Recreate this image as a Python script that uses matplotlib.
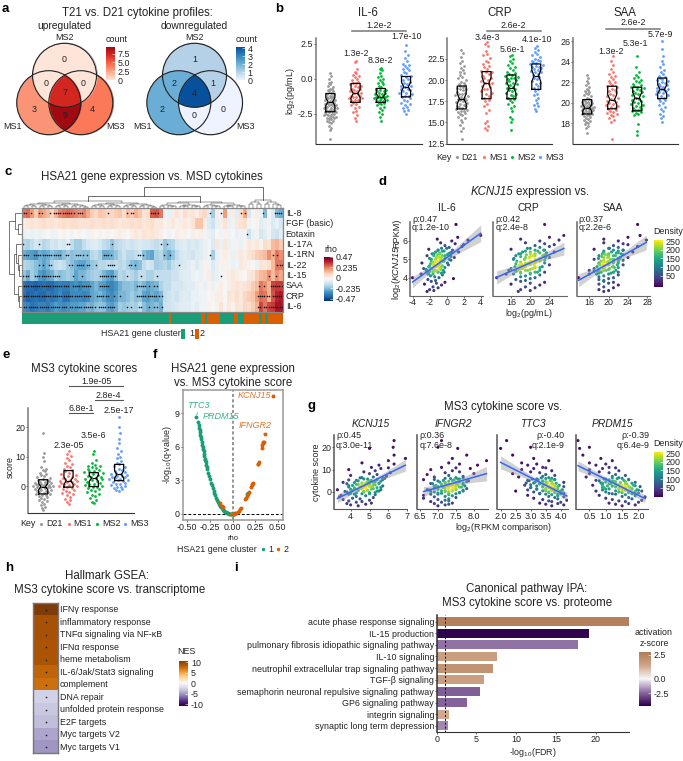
import numpy as np
import matplotlib
matplotlib.use('Agg')
import matplotlib.pyplot as plt
from matplotlib.patches import Circle, Rectangle
from matplotlib.colors import LinearSegmentedColormap, Normalize, TwoSlopeNorm
from matplotlib.colorbar import ColorbarBase

plt.rcParams.update({
    'font.family': ['Liberation Sans', 'DejaVu Sans'],
    'mathtext.fontset': 'custom',
    'mathtext.rm': 'Liberation Sans',
    'mathtext.it': 'Liberation Sans:italic',
    'mathtext.bf': 'Liberation Sans:bold',
    'mathtext.default': 'regular',
    'axes.facecolor': 'none',
    'axes.unicode_minus': False,
})

W, H = 683, 761
INK = '#222222'
GROUPS = ['D21', 'MS1', 'MS2', 'MS3']
GROUP_COLS = ['#999999', '#F8766D', '#00BA38', '#619CFF']
GREEN, ORANGE = '#1B9E77', '#D95F02'
TITLE = 8.3
SMALL = 6.4

# panel a, counts per venn region, keys are MS1/MS2/MS3 membership
up_counts = {'100': 3, '010': 0, '001': 4, '110': 0, '011': 0, '101': 9, '111': 7}
down_counts = {'100': 2, '010': 1, '001': 0, '110': 2, '011': 1, '101': 0, '111': 4}

# panel b, values per group
il6_d21 = [-4.3,-3.7,-3.5,-3.4,-3.2,-3.1,-3.0,-3.0,-2.9,-2.9,-2.8,-2.8,-2.7,-2.7,-2.7,-2.6,-2.6,-2.6,-2.5,-2.5,-2.5,-2.4,-2.4,-2.4,-2.3,-2.3,-2.3,-2.2,-2.2,-2.2,-2.1,-2.1,-2.1,-2.0,-2.0,-2.0,-1.9,-1.9,-1.9,-1.8,-1.8,-1.7,-1.7,-1.7,-1.6,-1.6,-1.5,-1.5,-1.4,-1.4,-1.3,-1.3,-1.2,-1.2,-1.1,-1.1,-1.0,-0.9,-0.9,-0.8,-0.7,-0.7,-0.6,-0.5,-0.4,-0.3,-0.2,0.0,0.2,0.4]
il6_ms1 = [-3.0,-2.8,-2.6,-2.4,-2.3,-2.1,-2.0,-1.9,-1.8,-1.7,-1.6,-1.6,-1.5,-1.5,-1.4,-1.4,-1.3,-1.3,-1.2,-1.2,-1.1,-1.0,-1.0,-0.9,-0.9,-0.8,-0.7,-0.7,-0.6,-0.5,-0.5,-0.4,-0.3,-0.3,-0.2,-0.1,0.0,0.1,0.2,0.3,0.4,0.5,0.7,1.2,1.3]
il6_ms2 = [-3.0,-2.7,-2.5,-2.4,-2.2,-2.1,-2.0,-1.9,-1.8,-1.7,-1.7,-1.6,-1.6,-1.5,-1.5,-1.4,-1.4,-1.3,-1.3,-1.3,-1.2,-1.2,-1.2,-1.1,-1.1,-1.0,-1.0,-0.9,-0.9,-0.8,-0.8,-0.7,-0.6,-0.5,-0.4,-0.3,-0.2,-0.1,0.0,0.1,0.2,0.4,0.6,0.7,0.8]
il6_ms3 = [-2.5,-2.3,-2.2,-2.1,-2.0,-1.9,-1.8,-1.7,-1.6,-1.5,-1.4,-1.3,-1.2,-1.2,-1.1,-1.0,-1.0,-0.9,-0.8,-0.7,-0.7,-0.6,-0.5,-0.5,-0.4,-0.3,-0.2,-0.1,0.0,0.1,0.2,0.3,0.4,0.5,0.6,0.7,0.8,0.9,1.0,1.1,1.3,1.5,1.7,2.0,2.4]
crp_d21 = [13.0,14.0,14.3,14.7,15.0,15.3,15.5,15.7,15.9,16.0,16.1,16.2,16.3,16.4,16.5,16.6,16.7,16.8,16.9,17.0,17.1,17.2,17.3,17.4,17.5,17.6,17.7,17.8,17.9,18.0,18.1,18.2,18.3,18.4,18.5,18.6,18.8,18.9,19.0,19.1,19.2,19.3,19.4,19.5,19.6,19.8,20.0,20.2,20.4,20.6,20.8,21.0,21.2,21.4,21.7,22.0,22.3,22.7,23.2,23.6]
crp_ms1 = [14.1,14.3,14.6,14.9,15.2,16.1,16.5,16.9,17.2,17.5,17.7,17.9,18.1,18.3,18.5,18.7,18.9,19.0,19.2,19.3,19.5,19.6,19.7,19.9,20.0,20.2,20.3,20.5,20.7,20.9,21.0,21.1,21.3,21.5,21.7,21.9,22.1,22.3,22.6,22.9,23.1,23.4,24.0,24.3,24.5]
crp_ms2 = [14.1,15.0,15.4,15.6,16.4,16.7,16.9,17.2,17.4,17.6,17.8,17.9,18.1,18.2,18.4,18.5,18.7,18.8,19.0,19.1,19.2,19.4,19.5,19.6,19.7,19.9,20.0,20.1,20.2,20.3,20.4,20.5,20.6,20.7,20.8,21.0,21.2,21.4,21.6,21.8,22.0,22.2,22.5,22.8,23.0]
crp_ms3 = [16.3,16.6,16.9,17.1,17.3,17.6,17.9,18.2,18.4,18.7,18.9,19.1,19.3,19.5,19.7,19.9,20.1,20.3,20.4,20.6,20.7,20.9,21.0,21.1,21.2,21.3,21.4,21.5,21.6,21.7,21.8,21.9,22.0,22.1,22.2,22.3,22.4,22.5,22.7,22.9,23.1,23.3,23.5,23.8,24.0]
saa_d21 = [17.0,17.5,17.7,17.9,18.0,18.1,18.2,18.3,18.4,18.5,18.6,18.7,18.8,18.8,18.9,18.9,19.0,19.0,19.1,19.1,19.2,19.2,19.3,19.3,19.4,19.4,19.5,19.5,19.5,19.6,19.6,19.7,19.7,19.8,19.8,19.9,19.9,20.0,20.0,20.1,20.1,20.2,20.2,20.3,20.4,20.5,20.6,20.7,20.8,20.9,21.0,21.1,21.2,21.3,21.5,21.7,21.9,22.1,22.4,22.7]
saa_ms1 = [16.5,18.1,18.3,18.5,18.7,18.8,18.9,19.0,19.1,19.2,19.3,19.4,19.5,19.6,19.7,19.8,19.9,20.0,20.1,20.2,20.3,20.4,20.5,20.6,20.7,20.8,21.0,21.1,21.2,21.3,21.5,21.6,21.7,21.9,22.0,22.1,22.3,22.5,22.6,22.8,23.0,23.3,23.7,24.1,24.5]
saa_ms2 = [16.8,17.2,17.9,18.8,18.9,19.0,19.1,19.2,19.3,19.3,19.4,19.5,19.6,19.7,19.8,19.9,20.0,20.1,20.2,20.3,20.4,20.5,20.6,20.7,20.8,20.9,21.0,21.1,21.2,21.3,21.4,21.5,21.5,21.6,21.7,21.8,22.0,22.1,22.2,22.4,22.5,22.7,23.0,23.5,24.5]
saa_ms3 = [18.1,18.5,18.7,18.9,19.2,19.4,19.6,19.8,20.0,20.2,20.3,20.4,20.5,20.6,20.7,20.8,20.9,21.0,21.1,21.1,21.2,21.3,21.3,21.4,21.5,21.6,21.7,21.8,21.9,22.0,22.1,22.2,22.3,22.4,22.5,22.6,22.8,23.0,23.2,23.5,23.8,24.1,24.5,25.2,26.0]
# q1, median, q3 for the boxes
il6_box = [(-2.36,-1.64,-1.05),(-1.69,-1.05,-0.33),(-1.69,-1.29,-0.69),(-1.29,-0.57,0.17)]
crp_box = [(16.6,17.8,19.3),(17.8,19.6,21.0),(17.8,19.1,20.6),(18.9,20.5,21.9)]
saa_box = [(18.9,19.5,20.3),(19.4,20.3,21.6),(19.2,20.5,21.5),(20.4,21.3,22.4)]

# panel c, rho x 100, 65 gene columns
cyto_names = ['IL-8','FGF (basic)','Eotaxin','IL-17A','IL-1RN','IL-22','IL-15','SAA','CRP','IL-6']
rho_il8 = [30,32,24,15,25, 22,18,12,20,28, 30,32,30,28,25, 28,22,14,12,16, 15,12,12,14,16, 10,18,14,20,16, 8,10,34,36,30, -2,-4,4,8,4, 10,6,8,4,10, 12,-6,-20,4,-2, 24,-4,4,-6,10, 22,-10,2,4,-4, -25,0,-8,-25,-28]
rho_fgf = [4,6,8,6,8, 10,8,8,6,8, 10,8,10,10,8, 8,8,10,8,8, 10,8,10,8,6, 8,8,10,8,10, 6,8,10,6,6, 2,4,6,2,4, 6,4,8,16,16, 4,-8,-12,-4,4, 8,-4,-2,6,8, 10,-2,0,2,-6, -4,-2,-8,-4,-10]
rho_eot = [-4,-2,-4,-2,-4, -2,0,-3,-2,0, 2,0,-2,0,2, 0,-2,2,0,2, 0,2,0,2,4, 2,0,4,6,4, 8,6,8,6,4, 0,-2,0,4,2, 2,0,4,2,4, -2,-4,-6,0,-2, 2,-2,0,-4,-2, -2,-12,-4,-2,-10, -6,-2,-10,-12,-6]
rho_il17 = [-16,-18,-14,-10,-12, -16,-14,-10,-12,-8, -10,-6,-14,-20,-20, -14,-10,-8,-6,-10, -14,-16,-22,-16,-14, -12,-10,-12,-10,-8, -10,-10,-12,-14,-12, -22,-18,-16,-10,-8, -6,-10,-8,-10,-6, -4,-2,-8,6,-4, 6,-4,-2,-2,-4, 2,6,4,6,2, 10,8,18,20,14]
rho_il1rn = [-28,-30,-32,-34,-28, -30,-28,-24,-26,-28, -24,-20,-24,-22,-22, -24,-24,-16,-14,-18, -28,-28,-26,-22,-16, -12,-16,-16,-14,-12, -24,-28,-30,-18,-16, -24,-28,-22,-14,-10, -8,-10,-12,-8,-6, -4,-2,-20,-4,2, 4,2,-4,4,6, 4,8,10,14,16, 18,26,20,30,26]
rho_il22 = [-16,-18,-20,-24,-26, -30,-26,-18,-14,-12, -14,-20,-24,-28,-30, -30,-26,-22,-20,-16, -16,-14,-16,-14,-16, -14,-18,-24,-26,-24, -14,-10,-12,-20,-18, -16,-20,-14,-12,-10, -8,-6,-4,-8,-4, 2,-2,-8,-4,2, 2,-2,-4,-2,6, 4,2,0,-4,8, 6,10,18,30,30]
rho_il15 = [-22,-28,-20,-24,-32, -34,-30,-28,-20,-24, -22,-20,-22,-30,-26, -26,-22,-20,-18,-20, -26,-30,-32,-24,-16, -18,-14,-16,-20,-14, -14,-18,-18,-14,-14, -14,-14,-12,-12,-8, -6,-6,-4,-2,-4, 2,4,-6,-4,-2, 2,4,6,4,2, 0,6,8,14,18, 20,26,18,26,22]
rho_saa = [-42,-44,-44,-46,-44, -42,-44,-44,-40,-38, -40,-40,-36,-34,-38, -34,-34,-30,-26,-30, -32,-36,-38,-34,-28, -24,-24,-22,-26,-22, -26,-30,-28,-26,-18, -14,-14,-10,-10,-10, -8,-6,-6,-4,-2, -4,2,-4,2,4, 0,4,6,8,6, 8,10,14,18,30, 26,20,38,40,40]
rho_crp = [-42,-46,-44,-42,-44, -44,-40,-42,-40,-36, -42,-42,-36,-36,-36, -38,-36,-30,-28,-26, -30,-34,-36,-32,-26, -26,-24,-20,-24,-22, -30,-32,-28,-30,-26, -14,-12,-10,-12,-8, -6,-8,-4,-4,-2, -2,0,2,4,4, 0,8,6,10,6, 12,14,16,24,32, 30,20,36,44,46]
rho_il6 = [-36,-38,-42,-40,-38, -38,-40,-36,-32,-34, -36,-34,-32,-32,-30, -30,-26,-28,-24,-22, -24,-30,-32,-28,-20, -22,-20,-18,-20,-14, -24,-28,-26,-24,-28, -12,-12,-10,-8,-6, -6,-6,-4,-6,-2, -2,2,0,2,8, 2,6,2,8,6, 12,10,14,20,38, 30,38,40,47,47]
rho_rows = [rho_il8, rho_fgf, rho_eot, rho_il17, rho_il1rn, rho_il22, rho_il15, rho_saa, rho_crp, rho_il6]
# significant cells as (first, last) column runs
sig_il8 = [(0,1.5),(2.3,2.3),(4.4,5.2),(7,7),(8,13),(14,15.5),(21.5,21.5),(26.2,26.2),(27.2,28),(32.2,34.2),(47,47),(49.6,49.6),(54.6,54.6),(55.7,55.7),(60,60.4),(63,65)]
sig_eot = [(56,56)]
sig_il17 = [(0.2,0.2),(4.4,4.4),(11.2,12.2),(22.5,22.5),(34.6,34.6),(36.1,36.1)]
sig_il1rn = [(0,2),(3,7.5),(8,10),(11,12),(13.5,15.5),(16.3,16.3),(20.5,22.5),(29,30.5),(35.4,35.4),(37,37),(47,47),(62.5,62.5),(63.5,63.5)]
sig_il22 = [(4.4,4.4),(5.2,5.2),(6.7,7.5),(11.7,11.7),(12.5,12.5),(13.7,15.4),(16.3,16.9),(18.6,18.6),(21.4,22.5),(23.1,23.1),(26.7,26.7),(27.3,27.3),(28.2,28.2),(39.2,39.2),(63.7,65)]
sig_il15 = [(0.4,1.7),(3.3,8.8),(9.4,9.4),(12.9,12.9),(15,15),(19.4,23.6),(26.2,26.2),(29.6,29.6),(33.7,33.7),(49.6,49.6),(61.7,61.7),(63.4,63.4)]
sig_saa = [(0,11.7),(12.7,17.5),(19.4,21.7),(28.6,31),(31.7,31.7),(32.9,32.9),(33.6,33.6),(59.2,59.2),(60.4,60.4),(62,65)]
sig_crp = [(0,17.5),(18.7,21.7),(22.9,22.9),(24.6,24.6),(28.6,34.2),(35,35),(58.8,61.7),(62.5,65)]
sig_il6 = [(0.6,11.2),(12.1,18.3),(19.2,23.3),(26.2,26.2),(27.2,27.7),(29.2,30),(31.7,31.7),(32.9,32.9),(33.7,33.7),(35,35),(58.9,59.6),(60.4,65)]
sig_rows = [sig_il8, [], sig_eot, sig_il17, sig_il1rn, sig_il22, sig_il15, sig_saa, sig_crp, sig_il6]
cluster2_runs = [(36.8,37.3),(44.6,45.6),(46.1,49.4),(52.9,53.9),(55.4,59.2),(59.8,60.6),(61.3,65)]

# panel d, KCNJ15 expression and the three cytokines per sample
kcnj15 = [3.25,3.3,3.35,3.45,3.5,3.6,3.65,3.7,3.75,3.8,
          3.85,3.9,3.95,4.0,4.0,4.05,4.1,4.15,4.2,4.2,
          4.25,4.3,4.3,4.35,4.4,4.4,4.45,4.5,4.5,4.55,
          4.6,4.6,4.65,4.7,4.7,4.75,4.8,4.8,4.85,4.9,
          4.9,4.95,5.0,5.0,5.05,5.1,5.1,5.15,5.2,5.2,
          5.25,5.3,5.3,5.35,5.4,5.45,5.5,5.5,5.55,5.6,
          5.65,5.7,5.75,5.8,5.85,5.9,6.0,6.05,6.1,6.2,6.3,6.9,
          4.2,4.25,4.3,4.3,4.35,4.4,4.4,4.45,4.5,4.5,4.55,4.6,4.6,4.65,4.7,4.7,4.75,4.8,4.8,4.85,
          4.9,4.9,4.95,5.0,5.0,5.05,5.1,5.1,5.15,5.2,5.2,5.25,5.3,5.3,5.35,5.4,5.4,5.45,5.5,5.6]
d_il6 = [-2.3,-1.5,-2.0,-1.0,-1.6,-0.6,-2.6,-1.2,-0.2,-1.8,
         -1.3,-2.2,0.8,-4.0,-0.9,-1.4,-1.9,-0.5,-3.0,-1.6,
         -2.1,-1.0,-0.3,-1.5,-2.4,-1.2,-0.7,-1.7,-2.7,-0.9,
         -1.4,-0.6,-2.0,-1.1,0.2,-1.6,-0.8,-2.9,-1.3,-0.4,
         -1.0,0.5,-1.8,-0.7,-0.2,-1.2,0.9,-0.9,-2.3,-0.5,
         0.1,-1.5,-0.8,0.4,1.4,-0.3,-1.0,0.7,-2.1,-0.6,
         0.3,1.8,-0.2,2.0,1.0,-0.7,0.6,2.5,-1.1,1.3,4.0,1.1,
         -2.2,-0.6,-1.6,-1.0,-2.0,-0.4,-1.4,-2.4,-0.8,-1.8,-0.2,-1.2,-2.1,-0.5,-1.5,-0.9,-1.9,0.1,-1.1,-1.6,
         -0.3,-1.8,-0.7,-1.3,0.3,-2.0,-0.6,-1.0,0.5,-1.5,-0.2,-1.1,-1.7,0.2,-0.8,-1.3,0.6,-0.5,-1.0,0.0]
d_crp = [17.5,20,18,21,19,22,16,20,23,18,
         19,17,20,13,21,18,19,22,15,20,
         18,21,23,17,15.5,19,20,18,16,22,
         19,21,18,20,24,17,21,19,18,22,
         20,23,16.5,21,22,19,24,20,17,21,
         23,18,20,22,25,19,21,23,16,20,
         22,24,21,25,23,19,22,26,18,24,27,23,
         16.5,20,18,21.5,17,19.5,22,17.5,20.5,18.5,21,16.8,22.5,19,17.8,20.8,18.2,23,19.6,21.2,
         17.2,20.2,22.2,18.8,21.8,16.6,19.8,23.2,18,20.6,22.6,19.2,21,17.6,23.4,20,18.4,21.6,22.8,19.4]
d_saa = [19,20,18,21,19,22,18,20,21,19,
         19,18,20,13.8,21,18,19,22,16,20,
         18,21,22,17,16,19,20,19,17,22,
         19,21,19,20,23,18,21,18,19,22,
         20,23,17,21,22,19,24,20,18,21,
         23,19,20,22,25,19,21,23,17,20,
         22,26,21,24,23,19,22,27.8,19,24,26.5,26,
         17.5,20.5,18.5,21,17.8,19.5,21.5,18,20.2,19,21.2,17.6,20.8,19.2,18.2,21.8,18.8,20,22,19.6,
         18.4,21,19,22.2,20.4,17.9,19.8,22.4,18.6,21.4,20,19.4,22.6,18.7,21.6,20.6,19,22,23,20.2]

# panel e
score_d21 = [-8,-7.5,-7,-6.5,-6,-5.5,-5,-4.7,-4.3,-4,-3.7,-3.4,-3.1,-2.9,-2.7,-2.5,-2.3,-2.1,-1.9,-1.7,-1.5,-1.3,-1.1,-0.9,-0.7,-0.6,-0.4,-0.3,-0.1,0,0.1,0.2,0.3,0.4,0.5,0.7,0.8,0.9,1.1,1.2,1.4,1.6,1.8,2.0,2.2,2.5,2.8,3.1,3.4,3.8,4.2,4.6,5.0,5.5,6.0,6.6,8.5,10,11.3,18]
score_ms1 = [-6,-5.3,-4.8,-4.2,-3.5,-3.0,-2.6,-2.2,-1.9,-1.5,-1.1,-0.8,-0.5,-0.2,0,0.2,0.4,0.7,0.9,1.1,1.3,1.5,1.7,1.9,2.1,2.3,2.6,2.9,3.2,3.5,3.8,4.1,4.5,5.0,5.4,5.9,6.4,7,7.5,8,8.8,9.5,10.3,11,11.8]
score_ms2 = [-5.7,-5.2,-4.5,-3.9,-3.3,-2.9,-2.5,-2.1,-1.7,-1.3,-1,-0.7,-0.4,-0.1,0.1,0.4,0.7,0.9,1.2,1.5,1.8,2,2.3,2.6,2.8,3.1,3.3,3.6,3.9,4.1,4.4,4.7,5,5.3,5.6,5.9,6.2,6.5,6.8,7,7.3,8,9,11,11.8]
score_ms3 = [-1.7,-1.3,-1,-0.7,-0.4,-0.2,0,0.3,0.6,0.9,1.1,1.4,1.7,2,2.2,2.4,2.6,2.8,3,3.2,3.4,3.6,3.8,4,4.2,4.5,4.8,5.2,5.6,6,6.5,7,7.5,8,8.7,9.5,10,11,12,13,14.5,16,18,20,23.5]
score_box = [(-2.6,-0.1,2.2),(-0.3,1.9,5.3),(-0.1,2.7,4.6),(1.9,4.0,7.4)]

# panel f
c1_rho = [-0.40,-0.38,-0.375,-0.37,-0.365,-0.36,-0.355,-0.35,-0.345,-0.34,-0.335,-0.33,-0.325,-0.32,-0.315,-0.31,-0.305,-0.30,-0.295,-0.29,-0.285,-0.28,-0.27,-0.26,-0.25,-0.24,-0.23,-0.22,-0.21,-0.20,-0.19,-0.18,-0.17,-0.16,-0.15,-0.14,-0.13,-0.12,-0.11,-0.10,-0.09,-0.08,-0.07,-0.06,-0.05,-0.04,-0.03,-0.02,-0.01,0.0,0.01,0.02,0.16,0.17]
c1_q = [8.65,8.2,7.9,7.7,7.5,7.3,7.05,6.85,6.65,6.45,6.2,6.0,5.8,5.6,5.35,5.15,4.95,4.8,4.6,4.4,4.2,4.05,3.7,3.4,3.1,2.8,2.55,2.3,2.05,1.85,1.65,1.45,1.25,1.05,0.9,0.75,0.62,0.5,0.4,0.32,0.25,0.18,0.13,0.09,0.06,0.04,0.02,0.01,0.005,0.0,0.005,0.01,1.75,1.85]
c2_rho = [-0.14,-0.12,-0.11,-0.02,0.02,0.03,0.04,0.06,0.07,0.08,0.09,0.14,0.15,0.16,0.17,0.18,0.20,0.21,0.22,0.23,0.28,0.285,0.29,0.325,0.33,0.335,0.34,0.345,0.355,0.445]
c2_q = [0.95,0.75,0.6,0.02,0.03,0.05,0.1,0.2,0.3,0.4,0.5,1.3,1.45,1.6,1.8,1.95,2.4,2.55,2.7,2.8,4.45,4.5,4.6,5.85,6.2,6.3,6.4,6.45,7.15,10.5]

# panel g, score per sample and four genes
score_all = [-6.2,-5.8,-5.5,-5.2,-5,-4.6,-4.3,-4,-3.7,-3.4,
             -3.1,-2.8,-2.5,-2.2,-2,-1.7,-1.5,-1.2,-1,-0.8,
             -0.6,-0.3,0,0.2,0.4,0.6,0.8,1,1.2,1.4,
             1.6,1.8,2,2.2,2.4,2.6,2.8,3,3.2,3.4,
             3.6,3.8,4,4.3,4.6,4.9,5.2,5.5,5.8,6.1,
             6.4,6.7,7,7.4,7.8,8.2,8.6,9,9.5,10,
             10.5,10.8,11,12,12.5,13,14,15,16.5,19.5,20,23,
             -1,-0.8,-0.5,-0.3,0,0.2,0.4,0.5,0.7,0.9,1,1.2,1.4,1.5,1.7,1.9,2,2.2,2.4,2.5,
             2.7,2.9,3,3.2,3.4,3.5,3.7,3.9,4,4.2,4.4,4.6,4.8,5,5.2,5.4,5.6,5.8,6,6.3]
g_kcnj15 = [4.4,4.0,4.8,3.8,5.1,4.3,4.6,3.9,5.0,3.6,
            4.5,4.1,5.2,3.4,4.3,4.8,3.5,5.3,4.2,4.6,
            4.0,5.0,4.7,3.7,5.4,4.4,4.9,3.3,5.1,4.6,
            4.8,4.2,5.6,4.5,5.0,4.7,3.9,5.2,4.9,4.4,
            4.6,5.5,4.8,3.6,5.3,5.0,4.3,5.7,4.9,5.8,
            4.6,5.2,5.9,4.0,5.4,5.0,6.1,4.7,5.3,3.9,
            5.6,6.0,5.1,5.5,6.3,4.6,6.0,6.9,6.3,5.0,6.25,6.3,
            3.9,5.0,4.3,5.3,3.8,4.7,5.5,4.1,4.9,4.4,5.6,4.0,4.6,5.2,4.2,5.4,4.8,3.9,5.1,4.5,
            5.7,4.1,4.7,5.3,4.3,5.0,3.8,5.5,4.6,4.2,5.2,4.9,5.6,4.4,5.1,3.9,5.4,4.7,5.7,4.5]
g_ifngr2 = [7.0,7.2,7.3,6.9,7.4,7.1,6.8,7.3,7.2,7.0,
            7.3,6.6,7.5,6.9,7.2,7.4,6.6,7.3,7.0,7.5,
            7.1,7.6,7.3,6.8,7.4,7.2,7.7,6.7,7.3,7.5,
            7.2,7.4,7.0,7.6,7.3,6.9,7.5,7.4,7.1,7.7,
            7.3,6.8,7.5,7.2,7.8,7.0,7.4,6.6,7.6,7.2,
            7.5,6.9,7.7,7.3,6.7,8.0,7.2,7.6,7.4,6.8,
            7.9,7.5,7.1,8.1,7.6,7.3,8.35,7.4,7.8,7.55,7.0,7.1,
            6.8,7.3,7.0,7.6,6.9,7.2,7.7,7.1,7.4,6.75,7.5,7.0,7.3,7.8,6.9,7.45,7.15,7.65,7.0,7.35,
            7.75,6.95,7.25,7.55,7.1,7.4,6.85,7.7,7.2,7.5,7.05,7.6,7.3,7.85,7.15,7.45,6.9,7.55,7.35,7.7]
g_ttc3 = [3.7,4.1,3.5,3.9,3.3,4.0,3.7,3.6,4.2,3.4,
          3.9,3.1,3.8,4.1,3.6,3.9,2.9,3.7,3.5,4.0,
          3.3,3.8,3.6,4.0,2.5,3.5,3.9,3.7,3.2,3.8,
          3.5,3.7,3.0,3.6,3.9,3.4,3.8,2.8,3.6,3.5,
          3.3,3.7,3.1,4.1,3.5,3.4,2.9,3.8,3.2,3.7,
          3.6,2.6,3.4,3.8,3.5,2.4,3.3,3.0,3.7,2.7,
          3.1,3.5,3.4,2.9,3.2,2.7,3.6,3.1,2.4,2.0,3.0,2.2,
          3.9,3.3,4.1,3.6,3.1,3.8,4.0,3.4,3.7,2.9,4.05,3.5,3.2,3.9,3.6,3.0,3.8,3.4,4.1,3.7,
          3.2,3.6,3.95,3.0,3.5,3.75,3.3,3.85,2.85,3.55,3.15,3.7,3.4,2.95,3.65,3.25,3.8,3.05,3.5,3.35]
g_prdm15 = [1.5,1.9,1.3,1.7,1.1,2.0,1.6,1.4,2.1,1.2,
            1.8,1.0,1.7,2.2,1.5,1.9,0.8,1.6,1.3,1.8,
            1.1,1.7,1.4,1.9,0.7,1.5,2.0,1.6,1.0,1.8,
            1.4,1.6,0.9,1.5,1.7,1.2,1.9,0.6,1.4,1.3,
            1.1,1.6,0.9,1.9,1.3,1.2,0.7,1.7,1.0,1.5,
            1.4,0.4,1.2,1.6,1.3,0.5,1.1,0.8,1.4,0.5,
            0.9,1.3,1.1,0.7,1.0,0.5,1.2,0.85,0.3,0.2,0.5,0.15,
            1.9,1.2,2.0,1.5,1.0,1.7,2.1,1.3,1.6,0.9,1.95,1.4,1.1,1.8,1.5,0.95,1.75,1.3,2.05,1.6,
            1.05,1.5,1.85,0.9,1.4,1.65,1.15,1.8,0.85,1.45,1.0,1.6,1.25,0.8,1.55,1.1,1.7,0.95,1.35,1.2]

# panel h
hallmark_names = ['IFNγ response','inflammatory response','TNFα signaling via NF-κB','IFNα response','heme metabolism','IL-6/Jak/Stat3 signaling','complement','DNA repair','unfolded protein response','E2F targets','Myc targets V2','Myc targets V1']
hallmark_nes = [9.8,8.0,8.0,7.8,7.8,7.0,6.5,-2.2,-2.6,-3.0,-4.0,-4.5]

# panel i
ipa_names = ['acute phase response signaling','IL-15 production','pulmonary fibrosis idiopathic signaling pathway','IL-10 signaling','neutrophil extracellular trap signaling pathway','TGF-β signaling','semaphorin neuronal repulsive signaling pathway','GP6 signaling pathway','integrin signaling','synaptic long term depression']
ipa_fdr = [24.2,19.1,17.8,7.6,7.1,5.9,5.4,3.8,1.5,1.4]
ipa_z = [2.6,-4.6,-2.2,1.6,2.0,1.6,-2.6,-2.5,1.3,-1.9]

fig = plt.figure(figsize=(W/100, H/100), dpi=100)

def ax_px(l, t, r, b):
    return fig.add_axes([l/W, 1-b/H, (r-l)/W, (b-t)/H])

# full figure layer in reference pixels, for the text and the legends
bg = fig.add_axes([0, 0, 1, 1], zorder=10)
bg.set_xlim(0, W)
bg.set_ylim(H, 0)
bg.axis('off')

def txt(x, y, s, size=SMALL, ha='center', va='center', **kw):
    kw.setdefault('color', INK)
    bg.text(x, y, s, fontsize=size, ha=ha, va=va, **kw)

def letter(x, y, s):
    txt(x, y, s, size=9.5, fontweight='bold', color='black')

def style_spines(ax, left='#777777', bottom='#333333'):
    ax.spines[['top', 'right']].set_visible(False)
    ax.spines['left'].set_color(left)
    ax.spines['left'].set_linewidth(1.1)
    ax.spines['bottom'].set_color(bottom)
    ax.spines['bottom'].set_linewidth(0.8)
    ax.tick_params(labelsize=SMALL, length=1.3, width=0.5, pad=0.6, colors=INK)

def cbar(l, t, r, b, cmap, norm, ticks, labels):
    cax = ax_px(l, t, r, b)
    cb = ColorbarBase(cax, cmap=cmap, norm=norm, ticks=ticks)
    cb.set_ticklabels(labels)
    cb.outline.set_visible(False)
    cax.tick_params(labelsize=SMALL, length=2, width=0.4, color='white', direction='in', pad=2, labelcolor=INK)

def van_der_corput(i):
    v, f = 0.0, 0.5
    while i > 0:
        v += f*(i % 2)
        i //= 2
        f /= 2
    return v

def strip(ax, groups, boxes, wid, px_x, px_y):
    for k, vals in enumerate(groups):
        v = np.array(vals, float)
        d = np.exp(-0.5*((v[:, None]-v[None, :])*px_y/5.0)**2).sum(axis=1)
        off = np.array([van_der_corput(i+1)-0.5 for i in range(len(v))])*2*wid*d/d.max()
        ax.scatter(k+1+off/px_x, v, s=4.0, color=GROUP_COLS[k], lw=0, zorder=2)
    stats = []
    for q1, med, q3 in boxes:
        ci = 0.22*(q3-q1)
        stats.append(dict(med=med, q1=q1, q3=q3, cilo=med-ci, cihi=med+ci, whislo=q1, whishi=q3, fliers=[]))
    ax.bxp(stats, positions=[1, 2, 3, 4], widths=0.36, shownotches=True, showfliers=False, showcaps=False,
           manage_ticks=False, boxprops=dict(color='black', lw=0.9), medianprops=dict(color='black', lw=0.9),
           whiskerprops=dict(lw=0), zorder=3)
    ax.set_xticks([])

def key_row(y, x_key, xs_dot, xs_lab, labels, cols, s=5):
    if x_key is not None:
        txt(x_key, y, 'Key', ha='left')
    for xd, xl, lab, c in zip(xs_dot, xs_lab, labels, cols):
        bg.scatter([xd], [y], s=s, color=c, lw=0)
        txt(xl, y, lab, ha='left')

def density_scatter(ax, x, y, lim_x, lim_y, ax_w, ax_h):
    x = np.array(x, float)
    y = np.array(y, float)
    px = (x-lim_x[0])/(lim_x[1]-lim_x[0])*ax_w
    py = (y-lim_y[0])/(lim_y[1]-lim_y[0])*ax_h
    r2 = (px[:, None]-px[None, :])**2+(py[:, None]-py[None, :])**2
    dens = np.exp(-0.5*r2/3.5**2).sum(axis=1)
    dens = dens/dens.max()*250
    order = np.argsort(dens)
    ax.scatter(x[order], y[order], c=dens[order], cmap='viridis', vmin=15, vmax=250, s=5, lw=0, zorder=2)
    b, a = np.polyfit(x, y, 1)
    xs = np.linspace(x.min(), x.max(), 50)
    fit = a+b*xs
    res = y-(a+b*x)
    se = np.sqrt((res**2).sum()/(len(x)-2))*np.sqrt(1/len(x)+(xs-x.mean())**2/((x-x.mean())**2).sum())
    ax.fill_between(xs, fit-2*se, fit+2*se, color='#999999', alpha=0.45, lw=0, zorder=3)
    ax.plot(xs, fit, color='#3366FF', lw=1.1, zorder=4)

# a
def venn(cx, cy, r, counts, cmap, vmax):
    xx, yy = np.meshgrid(np.linspace(cx[0]-r-1, cx[2]+r+1, 500), np.linspace(cy[1]-r-1, cy[0]+r+1, 500))
    inside = [(xx-cx[i])**2+(yy-cy[i])**2 <= r**2 for i in range(3)]
    rgba = np.zeros(xx.shape+(4,))
    norm = Normalize(0, vmax)
    for key, val in counts.items():
        m = np.ones(xx.shape, bool)
        for i in range(3):
            m &= inside[i] if key[i] == '1' else ~inside[i]
        rgba[m] = cmap(norm(val))
    bg.imshow(rgba, extent=(xx.min(), xx.max(), yy.max(), yy.min()), aspect='auto', interpolation='bilinear', zorder=1)
    bg.set_xlim(0, W)
    bg.set_ylim(H, 0)
    for i in range(3):
        bg.add_patch(Circle((cx[i], cy[i]), r, fill=False, ec=INK, lw=0.8, zorder=2))

reds = LinearSegmentedColormap.from_list('reds', ['#FEE5D9', '#FCA98C', '#FB6A4A', '#DC2A22', '#A00B12'])
blues = LinearSegmentedColormap.from_list('blues', ['#EFF3FF', '#B5D2E8', '#6BAED6', '#3182BD', '#08519C'])
venn((48.7, 64.5, 80.8), (102.7, 75.3, 102.7), 32, up_counts, reds, 9)
venn((178.8, 194.5, 210.5), (102.7, 75.3, 102.7), 32, down_counts, blues, 4)
label_pos_up = {'010': (64.5, 59), '110': (46, 83), '011': (83, 83), '111': (65, 92.5), '100': (33.7, 109), '001': (92, 109), '101': (65, 116)}
label_pos_down = {'010': (194.5, 59), '110': (174, 83), '011': (213, 83), '111': (194.5, 93), '100': (162.3, 109), '001': (223, 109), '101': (194.5, 116)}
for key, (x, y) in label_pos_up.items():
    txt(x, y, str(up_counts[key]), color=INK, zorder=3)
for key, (x, y) in label_pos_down.items():
    txt(x, y, str(down_counts[key]), color=INK, zorder=3)
letter(5, 9, 'a')
txt(137, 13, 'T21 vs. D21 cytokine profiles:', size=TITLE)
txt(64.3, 26, 'upregulated', size=7.4)
txt(194.3, 26, 'downregulated', size=7.4)
for x0 in (0, 130):
    txt(x0+64, 37.7, 'MS2')
    txt(x0+12.5, 126.7, 'MS1')
    txt(x0+115.7, 126.7, 'MS3')
txt(116.7, 40, 'count')
txt(236, 40, 'count', ha='left')
cbar(106, 47.3, 115, 80, reds, Normalize(0, 9.3), [0, 2.5, 5, 7.5], ['0', '2.5', '5.0', '7.5'])
cbar(236, 47.3, 245, 80, blues, Normalize(0, 4.1), [0, 1, 2, 3, 4], ['0', '1', '2', '3', '4'])

# b
b_groups = [[il6_d21, il6_ms1, il6_ms2, il6_ms3], [crp_d21, crp_ms1, crp_ms2, crp_ms3], [saa_d21, saa_ms1, saa_ms2, saa_ms3]]
b_boxes = [il6_box, crp_box, saa_box]
b_rects = [(315.7, 38, 421.7, 143.7), (447.3, 38, 551.7, 143.7), (572.7, 38, 677.7, 143.7)]
b_ylims = [(-4.65, 2.93), (12.5, 24.96), (16.0, 26.3)]
b_ticks = [([-2.5, 0, 2.5], ['-2.5', '0.0', '2.5']), ([12.5, 15, 17.5, 20, 22.5], ['12.5', '15.0', '17.5', '20.0', '22.5']), ([18, 20, 22, 24, 26], None)]
for i in range(3):
    r = b_rects[i]
    ax = ax_px(*r)
    ax.set_xlim(0.42, 4.62)
    ax.set_ylim(*b_ylims[i])
    style_spines(ax)
    strip(ax, b_groups[i], b_boxes[i], 7.0, 25, (r[3]-r[1])/(b_ylims[i][1]-b_ylims[i][0]))
    ax.set_yticks(b_ticks[i][0])
    if b_ticks[i][1]:
        ax.set_yticklabels(b_ticks[i][1])
letter(279, 9, 'b')
for x, y, s in [(368, 12.7, 'IL-6'), (499.3, 12.7, 'CRP'), (625, 12.7, 'SAA')]:
    txt(x, y, s, size=TITLE)
for x, y, s in [(356, 53.3, '1.3e-2'), (380.7, 60.3, '8.3e-2'), (406.7, 36.7, '1.7e-10'),
                (487.3, 37.7, '3.4e-3'), (512.3, 50, '5.6e-1'), (536.7, 40, '4.1e-10'),
                (611, 51.7, '1.3e-2'), (635, 44, '5.3e-1'), (660.7, 34.3, '5.7e-9'),
                (379.3, 25, '1.2e-2'), (513.3, 25, '2.6e-2'), (633, 22.7, '2.6e-2')]:
    txt(x, y, s)
for x0, x1, y in [(351.7, 406, 30.7), (486.7, 540.7, 31), (606, 660, 28.7)]:
    bg.plot([x0, x1], [y, y], color='#777777', lw=1.1)
txt(290.7, 90.7, 'log$_2$(pg/mL)', rotation=90)
key_row(157.3, 436.7, [456.7, 484.3, 512.3, 540.3], [461.3, 489, 517, 545], GROUPS, GROUP_COLS)

# c
heat_l, heat_r, heat_t, heat_b = 21.7, 282.7, 208.3, 311.7
col_w = (heat_r-heat_l)/65
ax = ax_px(heat_l, heat_t, heat_r, heat_b)
ax.imshow(np.array(rho_rows)/100.0, cmap='RdBu_r', vmin=-0.57, vmax=0.57, aspect='auto', interpolation='nearest', extent=(0, 65, 10, 0))
for r, runs in enumerate(sig_rows):
    for a, b in runs:
        xs = np.arange(a, b+0.01, 0.55)
        ax.plot(xs, [r+0.5]*len(xs), ls='none', marker='o', ms=1.15, mec='none', color='#111111', clip_on=True)
ax.set_xlim(0, 65)
ax.set_ylim(10, 0)
ax.set_xticks([])
ax.set_yticks([])
for s in ax.spines.values():
    s.set_color('#888888')
    s.set_linewidth(0.9)
for r, name in enumerate(cyto_names):
    txt(285.7, heat_t+(heat_b-heat_t)*(r+0.5)/10, name, ha='left')
strip_ax = ax_px(heat_l, 313.3, heat_r, 323.5)
strip_ax.axvspan(0, 65, color=GREEN, lw=0)
for a, b in cluster2_runs:
    strip_ax.axvspan(a, b, color=ORANGE, lw=0)
strip_ax.set_xlim(0, 65)
strip_ax.axis('off')
letter(8, 172, 'c')
txt(152, 177, 'HSA21 gene expression vs. MSD cytokines', size=TITLE)

# dendrogram over the gene columns
def col_x(c):
    return heat_l+c*col_w

def col_tree(lo, hi, h):
    if hi-lo <= 1:
        return lo+0.5, heat_t-0.5
    mid = (lo+hi)//2
    hc = max(h*0.72, 1.0) if hi-lo > 2 else 0.0
    a = col_tree(lo, mid, hc)
    b = col_tree(mid, hi, hc)
    y = heat_t-0.5-h
    bg.plot([col_x(a[0]), col_x(a[0]), col_x(b[0]), col_x(b[0])], [a[1], y, y, b[1]], color='#333333', lw=0.35)
    return (a[0]+b[0])/2, y

left_a = col_tree(0, 34, 6.5)
left_b = col_tree(34, 56, 6.0)
y_left = heat_t-12.3
bg.plot([col_x(left_a[0]), col_x(left_a[0]), col_x(left_b[0]), col_x(left_b[0])], [left_a[1], y_left, y_left, left_b[1]], color='#333333', lw=0.5)
right_a = col_tree(56, 65, 8.0)
x_left = (left_a[0]+left_b[0])/2
y_root = 186.7
bg.plot([col_x(x_left), col_x(x_left), col_x(right_a[0]), col_x(right_a[0])], [y_left, y_root, y_root, right_a[1]], color='#333333', lw=0.5)

# dendrogram beside the cytokine rows, leaves are row numbers
row_tree = (12.5, (6.5, 0, (3.5, 1, 2)), (7.5, (5, 3, (3.5, 4, (2, 5, 6))), (3.5, 7, (1.8, 8, 9))))

def row_draw(node):
    if not isinstance(node, tuple):
        return heat_t+(heat_b-heat_t)*(node+0.5)/10, 0
    h, a, b = node
    ya, ha = row_draw(a)
    yb, hb = row_draw(b)
    x = heat_l-0.5-h
    bg.plot([heat_l-0.5-ha, x, x, heat_l-0.5-hb], [ya, ya, yb, yb], color='#444444', lw=0.5)
    return (ya+yb)/2, h

row_draw(row_tree)
txt(324, 250, 'rho', ha='left')
cbar(324, 256.7, 333, 301, plt.get_cmap('RdBu_r'), Normalize(-0.52, 0.47), [-0.47, -0.235, 0, 0.235, 0.47], ['-0.47', '-0.235', '0', '0.235', '0.47'])
txt(100.7, 334, 'HSA21 gene cluster', ha='left')
bg.add_patch(Rectangle((181, 329.3), 4, 9.4, color=GREEN, lw=0))
txt(189.5, 334, '1', ha='left')
bg.add_patch(Rectangle((195.3, 329.3), 3.6, 9.4, color=ORANGE, lw=0))
txt(200, 334, '2', ha='left')

# d
d_xs = [d_il6, d_crp, d_saa]
d_rects = [(410, 221.7, 483, 295.7), (493.3, 221.7, 566.7, 295.7), (576.7, 221.7, 650, 295.7)]
d_xlims = [(-4.3, 4.27), (12.3, 27.6), (13.4, 28.56)]
d_xticks = [[-4, -2, 0, 2, 4], [16, 20, 24], [16, 20, 24, 28]]
d_notes = [('ρ:0.47', 'q:1.2e-10', 412), ('ρ:0.42', 'q:2.4e-8', 495.3), ('ρ:0.37', 'q:2.2e-6', 578.7)]
d_titles = [(446.7, 'IL-6'), (528, 'CRP'), (613, 'SAA')]
d_ylim = (3.02, 7.05)
for i in range(3):
    r = d_rects[i]
    ax = ax_px(*r)
    density_scatter(ax, d_xs[i], kcnj15, d_xlims[i], d_ylim, r[2]-r[0], r[3]-r[1])
    ax.set_xlim(*d_xlims[i])
    ax.set_ylim(*d_ylim)
    style_spines(ax, left='#666666', bottom='#666666')
    ax.set_xticks(d_xticks[i])
    if i == 0:
        ax.set_yticks([4, 5, 6])
    else:
        ax.set_yticks([])
    txt(d_titles[i][0], 208, d_titles[i][1], size=7.4)
    txt(d_notes[i][2], 219.3, d_notes[i][0], ha='left')
    txt(d_notes[i][2], 227.7, d_notes[i][1], ha='left')
letter(382.7, 182, 'd')
txt(513.5, 191.7, 'KCNJ15', size=TITLE, ha='right', style='italic')
txt(515.5, 191.7, 'expression vs.', size=TITLE, ha='left')
# mixed italic axis title, set in three pieces going up
txt(396.7, 300, 'log$_2$(', size=6.6, rotation=90, va='bottom')
txt(396.7, 280.5, 'KCNJ15', size=6.6, rotation=90, va='bottom', style='italic')
txt(396.7, 248, 'RPKM)', size=6.6, rotation=90, va='bottom')
txt(529.3, 313.5, 'log$_2$(pg/mL)')
txt(653, 232, 'Density', ha='left')
cbar(654.3, 240, 662.7, 286.7, plt.get_cmap('viridis'), Normalize(-15, 258), [50, 100, 150, 200, 250], ['50', '100', '150', '200', '250'])

# e
ax = ax_px(28.3, 408.3, 134.3, 513.3)
ax.set_xlim(0.41, 4.6)
ax.set_ylim(-9.16, 26.4)
style_spines(ax)
strip(ax, [score_d21, score_ms1, score_ms2, score_ms3], score_box, 10.5, 25.3, 2.95)
ax.set_yticks([0, 10, 20])
letter(6, 355, 'e')
txt(84, 369, 'MS3 cytokine scores', size=TITLE)
for x, y, s in [(96, 382, '1.9e-05'), (108, 395.7, '2.8e-4'), (81, 408.3, '6.8e-1'),
                (118.7, 410.7, '2.5e-17'), (93.7, 435.7, '3.5e-6'), (68.7, 446, '2.3e-05')]:
    txt(x, y, s)
for x0, x1, y in [(69, 123, 386.3), (95, 122.7, 400.3), (69, 93, 412.7)]:
    bg.plot([x0, x1], [y, y], color='#555555', lw=0.8)
txt(10.5, 467, 'score', rotation=90)
key_row(523.7, 20.7, [41, 69.3, 97.3, 125.3], [46, 73.7, 102, 130], GROUPS, GROUP_COLS)

# f
ax = ax_px(182.7, 390, 282.7, 520)
ax.set_xlim(-0.551, 0.555)
ax.set_ylim(-0.54, 11.07)
ax.axhline(0, color='black', lw=0.7, ls=(0, (3, 2)), zorder=1)
ax.axvline(0, color='#777777', lw=1.1, ls=(0, (2, 1.5)), zorder=1)
ax.scatter(c1_rho, c1_q, s=8, color=GREEN, lw=0, zorder=2)
ax.scatter(c2_rho, c2_q, s=8, color=ORANGE, lw=0, zorder=3)
for s in ax.spines.values():
    s.set_color('#999999')
    s.set_linewidth(1.1)
ax.set_xticks([-0.5, -0.25, 0, 0.25, 0.5])
ax.set_xticklabels(['-0.50', '-0.25', '0.00', '0.25', '0.50'])
ax.set_yticks([0, 3, 6, 9])
ax.tick_params(labelsize=SMALL, length=1.5, width=0.5, pad=1, colors=INK)
lab_green, lab_orange = '#3CB08E', '#E0762A'
ax.annotate('TTC3', xy=(-0.40, 8.65), xytext=(-0.373, 9.7), fontsize=6.5, style='italic', color=lab_green, ha='center', va='center',
            arrowprops=dict(arrowstyle='-', color=GREEN, lw=0.5, shrinkA=0, shrinkB=1.5))
ax.annotate('PRDM15', xy=(-0.38, 8.2), xytext=(-0.133, 8.66), fontsize=6.5, style='italic', color=lab_green, ha='center', va='center',
            arrowprops=dict(arrowstyle='-', color=GREEN, lw=0.5, shrinkA=0, shrinkB=1.5))
ax.annotate('IFNGR2', xy=(0.355, 7.15), xytext=(0.247, 7.86), fontsize=6.5, style='italic', color=lab_orange, ha='center', va='center',
            arrowprops=dict(arrowstyle='-', color=ORANGE, lw=0.5, shrinkA=0, shrinkB=1.5))
ax.text(0.239, 10.6, 'KCNJ15', fontsize=6.5, style='italic', color=lab_orange, ha='center', va='center')
letter(155, 355, 'f')
txt(232.7, 369, 'HSA21 gene expression', size=TITLE)
txt(232.7, 382.7, 'vs. MS3 cytokine score', size=TITLE)
txt(168, 455, '-log$_{10}$(q-value)', rotation=90)
txt(233, 538.3, 'rho', size=5.5)
txt(177.3, 549, 'HSA21 gene cluster', ha='left')
key_row(549, None, [262.7, 278.3], [268, 284], ['1', '2'], [GREEN, ORANGE], s=6)

# g
g_xs = [g_kcnj15, g_ifngr2, g_ttc3, g_prdm15]
g_rects = [(334, 435, 407.3, 509.3), (416.7, 435, 488.3, 509.3), (496.7, 435, 568.3, 509.3), (576, 435, 648.3, 509.3)]
g_xlims = [(3.12, 7.0), (6.41, 8.4), (1.87, 4.25), (0.09, 2.3)]
g_xticks = [[4, 5, 6, 7], [6.5, 7.0, 7.5, 8.0], [2.0, 2.5, 3.0, 3.5, 4.0], [0.5, 1.0, 1.5, 2.0]]
g_ylim = (-7.76, 25.5)
g_names = ['KCNJ15', 'IFNGR2', 'TTC3', 'PRDM15']
g_title_x = [371, 453.3, 533.3, 612.7]
g_notes = [('ρ:0.45', 'q:3.0e-11', 336, 'left'), ('ρ:0.36', 'q:7.6e-8', 419.3, 'left'),
           ('ρ:-0.40', 'q:2.1e-9', 564.3, 'right'), ('ρ:-0.39', 'q:6.4e-9', 649.3, 'right')]
for i in range(4):
    r = g_rects[i]
    ax = ax_px(*r)
    density_scatter(ax, g_xs[i], score_all, g_xlims[i], g_ylim, r[2]-r[0], r[3]-r[1])
    ax.set_xlim(*g_xlims[i])
    ax.set_ylim(*g_ylim)
    style_spines(ax, left='#555555', bottom='#555555')
    ax.set_xticks(g_xticks[i])
    if i == 0:
        ax.set_yticks([0, 10, 20])
    else:
        ax.set_yticks([])
    txt(g_title_x[i], 424, g_names[i], size=7.4, style='italic')
    note = g_notes[i]
    txt(note[2], 435.7, note[0], ha=note[3])
    txt(note[2], 445, note[1], ha=note[3])
letter(311, 406, 'g')
txt(502.7, 407.3, 'MS3 cytokine score vs.', size=TITLE)
txt(316.7, 472.7, 'cytokine score', rotation=90)
txt(503.3, 527.7, 'log$_2$(RPKM comparison)')
txt(653, 443, 'Density', ha='left')
cbar(654, 451.7, 662.7, 496.7, plt.get_cmap('viridis'), Normalize(-1, 258), [50, 100, 150, 200, 250], ['50', '100', '150', '200', '250'])

# h
ax = ax_px(33.3, 603.3, 58.3, 753.3)
ax.imshow(np.array(hallmark_nes)[:, None], cmap='PuOr_r', vmin=-9.5, vmax=9.5, aspect='auto', extent=(0, 1, 12, 0), interpolation='nearest')
ax.scatter([0.5]*12, np.arange(12)+0.5, s=1.5, color='#222222', lw=0)
ax.set_xlim(0, 1)
ax.set_ylim(12, 0)
ax.set_xticks([])
ax.set_yticks([])
for s in ax.spines.values():
    s.set_color('#777777')
    s.set_linewidth(1.0)
for r, name in enumerate(hallmark_names):
    txt(60, 603.3+12.5*(r+0.5), name, ha='left')
letter(9.3, 568, 'h')
txt(107.3, 576, 'Hallmark GSEA:', size=TITLE)
txt(109.3, 590, 'MS3 cytokine score vs. transcriptome', size=TITLE)
txt(177.7, 652, 'NES', ha='left')
cbar(179, 660.7, 188.3, 705.7, plt.get_cmap('PuOr_r'), Normalize(-10.8, 10.8), [-10, -5, 0, 5, 10], ['-10', '-5', '0', '5', '10'])

# i
ipa_cmap = LinearSegmentedColormap.from_list('ipa', ['#2D004B', '#8C6BA0', '#F7F5F7', '#CFA488', '#AE7B57'])
ipa_norm = TwoSlopeNorm(vcenter=0, vmin=-4.68, vmax=2.82)
ax = ax_px(436.7, 615, 629.3, 732)
ax.barh(range(10), ipa_fdr, height=0.78, color=ipa_cmap(ipa_norm(ipa_z)), zorder=1)
ax.axvline(1, color='black', lw=0.7, ls=(0, (2, 2)), zorder=2)
ax.set_xlim(0, 24.2)
ax.set_ylim(9.55, -0.6)
style_spines(ax, left='#333333', bottom='#333333')
ax.set_yticks(range(10))
ax.set_yticklabels(ipa_names)
ax.set_xticks([0, 5, 10, 15, 20])
letter(236, 568, 'i')
txt(526.7, 589.3, 'Canonical pathway IPA:', size=TITLE)
txt(526.7, 603.3, 'MS3 cytokine score vs. proteome', size=TITLE)
txt(533.3, 752.7, '-log$_{10}$(FDR)')
txt(654, 632.7, 'activation')
txt(654, 643.7, 'z-score')
cbar(639.3, 651.7, 650.7, 705.7, ipa_cmap, ipa_norm, [-2.5, 0, 2.5], ['-2.5', '0.0', '2.5'])

fig.savefig('out.png', dpi=100)
